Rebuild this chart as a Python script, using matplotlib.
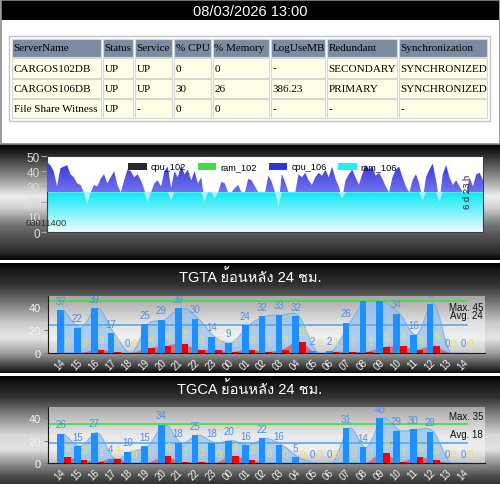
import numpy as np
import matplotlib
matplotlib.use('Agg')
import matplotlib.pyplot as plt
from matplotlib.patches import Rectangle, Patch, PathPatch
from matplotlib.path import Path
from matplotlib.colors import to_rgb
from matplotlib import font_manager
from matplotlib.ft2font import FT2Font

# ---------------- data ----------------
stamp = '08/03/2026 13:00'
columns = ['ServerName', 'Status', 'Service', '% CPU', '% Memory', 'LogUseMB', 'Redundant', 'Synchronization']
rows = [
    ['CARGOS102DB', 'UP', 'UP', '0', '0', '-', 'SECONDARY', 'SYNCHRONIZED'],
    ['CARGOS106DB', 'UP', 'UP', '30', '26', '386.23', 'PRIMARY', 'SYNCHRONIZED'],
    ['File Share Witness', 'UP', '-', '0', '0', '-', '-', '-'],
]

# week view (server 106, stacked: ram then cpu on top)
ram_106 = [
    26, 26, 26, 26, 26, 26, 26, 26, 26, 26,
    26, 26, 18, 26, 26, 26, 26, 26, 26, 26,
    26, 26, 26, 26, 26, 26, 26, 26, 26, 26,
    20, 26, 26, 26, 26, 26, 26, 21, 26, 26,
    26, 26, 26, 26, 26, 26, 26, 20, 26, 26,
    22, 26, 26, 26, 26, 26, 26, 26, 26, 26,
    26, 26, 26, 26, 26, 26, 26, 26, 26, 17,
    26, 26, 26, 26, 26, 26, 26, 26, 26, 26,
    26, 26, 26, 26, 26, 26, 26, 26, 22, 26,
    26, 26, 26, 26, 26, 26, 26, 26, 26, 26,
    26, 26, 26, 26, 26, 26, 26, 26, 26, 26,
    26, 26, 21, 26, 26, 26, 26, 20, 26, 26,
    26, 26, 26, 26, 26, 26, 26, 26, 26, 26, 26,
]
cpu_106 = [
    20, 18, 14, 4, 16, 17, 18, 12, 10, 6,
    5, 0, 0, 0, 5, 4, 9, 12, 6, 10,
    14, 5, 0, 8, 15, 14, 10, 12, 8, 2,
    0, 0, 6, 8, 4, 14, 17, 8, 14, 10,
    18, 12, 15, 8, 14, 6, 10, 0, 0, 0,
    4, 0, 7, 6, 0, 0, 3, 5, 0, 0,
    9, 8, 4, 0, 0, 0, 11, 7, 0, 0,
    12, 7, 0, 0, 0, 12, 10, 13, 8, 5,
    10, 13, 11, 15, 10, 17, 9, 4, 0, 8,
    12, 15, 10, 5, 12, 18, 15, 17, 11, 13,
    9, 4, 0, 10, 15, 17, 10, 4, 0, 8,
    12, 6, 0, 10, 15, 19, 8, 0, 12, 18,
    10, 5, 8, 4, 0, 0, 10, 4, 12, 13, 8,
]
legend_names = ['cpu_102', 'ram_102', 'cpu_106', 'ram_106']
legend_colors = ['#2a2a2a', '#3ee03e', '#3434d8', '#22eef6']
start_label = '03011400'
span_label = '6 d 23 h'

# last 24 hours
hours = ['14', '15', '16', '17', '18', '19', '20', '21', '22', '23', '00', '01', '02',
         '03', '04', '05', '06', '07', '08', '09', '10', '11', '12', '13', '14']
tgta_blue = [37, 22, 39, 17, 0, 25, 29, 39, 30, 14, 9, 24, 32, 33, 32, 2, 2, 26, 45, 45, 34, 16, 43, 0, 0]
tgta_red = [0, 0, 3, 1, 0, 4, 6, 8, 3, 3, 1, 3, 1, 3, 10, 0, 1, 1, 1, 5, 6, 3, 6, 0, 0]
tgta_max, tgta_avg = 45, 24
tgca_blue = [26, 15, 27, 4, 10, 15, 34, 18, 25, 18, 20, 16, 22, 16, 5, 0, 0, 31, 14, 40, 29, 30, 28, 0, 0]
tgca_red = [5, 3, 1, 4, 0, 0, 6, 1, 1, 0, 6, 3, 0, 0, 0, 0, 0, 0, 0, 9, 1, 5, 3, 0, 0]
tgca_max, tgca_avg = 35, 18


def thai_family():
    for f in font_manager.fontManager.ttflist:
        try:
            if FT2Font(f.fname).get_char_index(ord('ย')):
                return f.name
        except Exception:
            continue
    return 'DejaVu Sans'


plt.rcParams['font.family'] = ['Liberation Sans', thai_family(), 'DejaVu Sans']

W, H = 500, 485
fig = plt.figure(figsize=(5, 4.85), dpi=100)
fig.patch.set_facecolor('white')


def frac(x0, y0, x1, y1):
    # pixel box (top-left origin) -> figure rect
    return [x0 / W, 1 - y1 / H, (x1 - x0) / W, (y1 - y0) / H]


# background layer in pixel coordinates
bg = fig.add_axes([0, 0, 1, 1], zorder=-10)
bg.axis('off')


def metal(y0, y1, stops):
    t = np.linspace(0, 1, 256)
    g = np.interp(t, [s[0] for s in stops], [s[1] for s in stops])
    img = np.repeat(g[:, None], 2, axis=1)
    bg.imshow(img, cmap='gray', vmin=0, vmax=1, extent=(0, W, y1, y0),
              aspect='auto', interpolation='bilinear', origin='upper')


metal(145, 261, [(0, 0.0), (0.06, 0.1), (0.12, 0.22), (0.28, 0.55), (0.45, 0.93),
                 (0.55, 0.82), (0.7, 0.45), (0.82, 0.3), (0.93, 0.18), (1, 0.02)])
metal(264, 374, [(0, 0.0), (0.07, 0.1), (0.2, 0.2), (0.35, 0.45), (0.55, 0.8),
                 (0.68, 0.9), (0.82, 0.62), (0.92, 0.3), (1, 0.06)])
metal(377, 485, [(0, 0.0), (0.08, 0.1), (0.2, 0.2), (0.35, 0.5), (0.55, 0.85),
                 (0.68, 0.88), (0.82, 0.55), (0.93, 0.3), (1, 0.2)])
bg.set_xlim(0, W)
bg.set_ylim(H, 0)

# header bar and outer frame
bg.add_patch(Rectangle((1, 1), W - 2, 20, facecolor='black', edgecolor='none'))
bg.add_patch(Rectangle((0.5, 0.5), W - 1, 144, facecolor='none', edgecolor='#8a8a8a', lw=1.2))
bg.text(W / 2, 12, stamp, color='white', fontsize=10.5, ha='center', va='center')

# status table
col_edges = [11, 102, 134, 173, 212, 270, 326, 398, 488]
row_edges = [39, 58.5, 79.5, 99.5, 120]
bg.add_patch(Rectangle((9, 37), 481, 85, facecolor='white', edgecolor='#c4c4c4', lw=1))
for r, cells in enumerate([columns] + rows):
    for c, txt in enumerate(cells):
        x0, x1 = col_edges[c], col_edges[c + 1]
        y0, y1 = row_edges[r], row_edges[r + 1]
        face = '#7b8ca2' if r == 0 else '#fffee6'
        bg.add_patch(Rectangle((x0 + 0.5, y0 + 0.5), x1 - x0 - 1.5, y1 - y0 - 1.5,
                               facecolor=face, edgecolor='#d6d6d6', lw=0.8))
        bg.text(x0 + 2.5, (y0 + y1) / 2, txt, fontsize=8, family='Liberation Serif',
                color='black', ha='left', va='center')

# ---------------- week chart ----------------
ax1 = fig.add_axes(frac(47, 157, 483, 233))
ax1.set_facecolor('white')
xw = np.arange(len(ram_106))
ram = np.array(ram_106, dtype=float)
tot = ram + np.array(cpu_106, dtype=float)


def grad_between(ax, x, lo, hi, top, bottom, ylo, yhi, z):
    poly = ax.fill_between(x, lo, hi, facecolor='none', edgecolor='none', zorder=z)
    clip = Path.make_compound_path(*poly.get_paths())
    t = np.linspace(0, 1, 128)[:, None, None]
    img = np.array(to_rgb(top)) * (1 - t) + np.array(to_rgb(bottom)) * t
    im = ax.imshow(img, extent=(x[0], x[-1], ylo, yhi), aspect='auto',
                   origin='upper', zorder=z, interpolation='bilinear')
    im.set_clip_path(clip, transform=ax.transData)


# pale layer shows through where ram dips
grad_between(ax1, xw, 0, np.full(len(xw), ram.max()), '#a8f2fa', '#f2fdff', 0, 26, 1)
grad_between(ax1, xw, 0, ram, '#0ce8f4', '#eefcff', 0, 26, 2)
grad_between(ax1, xw, ram, tot, '#2626cc', '#7272f0', 26, 50, 3)
ax1.set_xlim(0, len(xw) - 1)
ax1.set_ylim(0, 50)
ax1.set_yticks(range(0, 51, 10))
ax1.set_xticks([])
ax1.tick_params(axis='y', colors='#a8a8a8', labelcolor='#dcdcdc', labelsize=8.5, length=4, pad=1)
for s in ax1.spines.values():
    s.set_color('#404040')
handles = [Patch(facecolor=c, edgecolor='none') for c in legend_colors]
ax1.legend(handles, legend_names, loc='upper center', ncol=4, frameon=False,
           fontsize=6.6, handlelength=2.0, handleheight=0.8, handletextpad=0.45,
           columnspacing=1.3, borderaxespad=0.3, bbox_to_anchor=(0.495, 1.0))
fig.text(26 / W, 1 - 224 / H, start_label, fontsize=6.8, color='#303030', va='center')
fig.text(467 / W, 1 - 192 / H, span_label, fontsize=6.8, color='#202020',
         rotation=90, ha='center', va='center')


# ---------------- 24 hour charts ----------------
def smooth_area(ax, xs, ys, color, alpha, edge, z):
    pts = np.column_stack([xs, ys]).astype(float)
    n = len(pts)
    verts = [(pts[0, 0], 0), tuple(pts[0])]
    codes = [Path.MOVETO, Path.LINETO]
    for i in range(n - 1):
        p0, p1 = pts[max(i - 1, 0)], pts[i]
        p2, p3 = pts[i + 1], pts[min(i + 2, n - 1)]
        verts += [tuple(p1 + (p2 - p0) / 6), tuple(p2 - (p3 - p1) / 6), tuple(p2)]
        codes += [Path.CURVE4] * 3
    verts += [(pts[-1, 0], 0), (pts[0, 0], 0)]
    codes += [Path.LINETO, Path.CLOSEPOLY]
    ax.add_patch(PathPatch(Path(verts, codes), facecolor=color, alpha=alpha,
                           edgecolor=edge, lw=0.8, zorder=z))


def hour_panel(box, title, title_y, blue, red, vmax, vavg, max_y, avg_y):
    ax = fig.add_axes(frac(*box))
    ax.set_facecolor((1, 1, 1, 0.45))
    x = np.arange(len(hours))
    xl = (-0.95, 25.07)
    smooth_area(ax, x, blue, '#8ec0f2', 0.7, '#6aa6e6', 1)
    smooth_area(ax, x, red, '#e83030', 0.55, 'none', 1)
    end = (len(hours) - 1 - xl[0]) / (xl[1] - xl[0])
    ax.axhline(vmax, xmax=end, color='#3ce03c', lw=1.2, zorder=2)
    ax.axhline(vavg, xmax=end, color='#5aa8ec', lw=1.2, zorder=2)
    ax.bar(x - 0.2, blue, 0.4, color='#1e8fff', zorder=3)
    ax.bar(x + 0.2, red, 0.4, color='#ee0000', zorder=3)
    for i in x:
        ax.text(i - 0.2, blue[i] + 4, str(blue[i]), color='#4f8fde', fontsize=7,
                ha='center', va='bottom', zorder=4, clip_on=True)
        ax.text(i + 0.2, red[i] + 4, str(red[i]), color='#eee060', fontsize=7,
                ha='center', va='bottom', zorder=4, clip_on=True)
    ax.text(24.95, max_y, 'Max. %d' % vmax, fontsize=7, color='#101010', ha='right', va='center', zorder=5)
    ax.text(24.95, avg_y, 'Avg. %d' % vavg, fontsize=7, color='#101010', ha='right', va='center', zorder=5)
    ax.set_xlim(*xl)
    ax.set_ylim(0, 50)
    ax.set_yticks([0, 20, 40])
    ax.set_xticks(x)
    ax.set_xticklabels(hours, rotation=45, ha='right', va='center', rotation_mode='anchor')
    ax.tick_params(axis='x', length=0, pad=5, labelsize=7, labelcolor='#f2f2f2')
    ax.tick_params(axis='y', length=3, color='#808080', pad=2, labelsize=8, labelcolor='#f2f2f2')
    for s in ['top', 'right']:
        ax.spines[s].set_visible(False)
    for s in ['left', 'bottom']:
        ax.spines[s].set_color('#1a1a1a')
    fig.text(0.5, 1 - title_y / H, title, color='white', fontsize=10.5, ha='center', va='center')


hour_panel((48, 296.5, 485, 354), 'TGTA ย้อนหลัง 24 ชม.', 277,
           tgta_blue, tgta_red, tgta_max, tgta_avg, 40, 33)
hour_panel((48, 408, 485, 464), 'TGCA ย้อนหลัง 24 ชม.', 389,
           tgca_blue, tgca_red, tgca_max, tgca_avg, 42, 26)

fig.savefig('out.png', dpi=100)
